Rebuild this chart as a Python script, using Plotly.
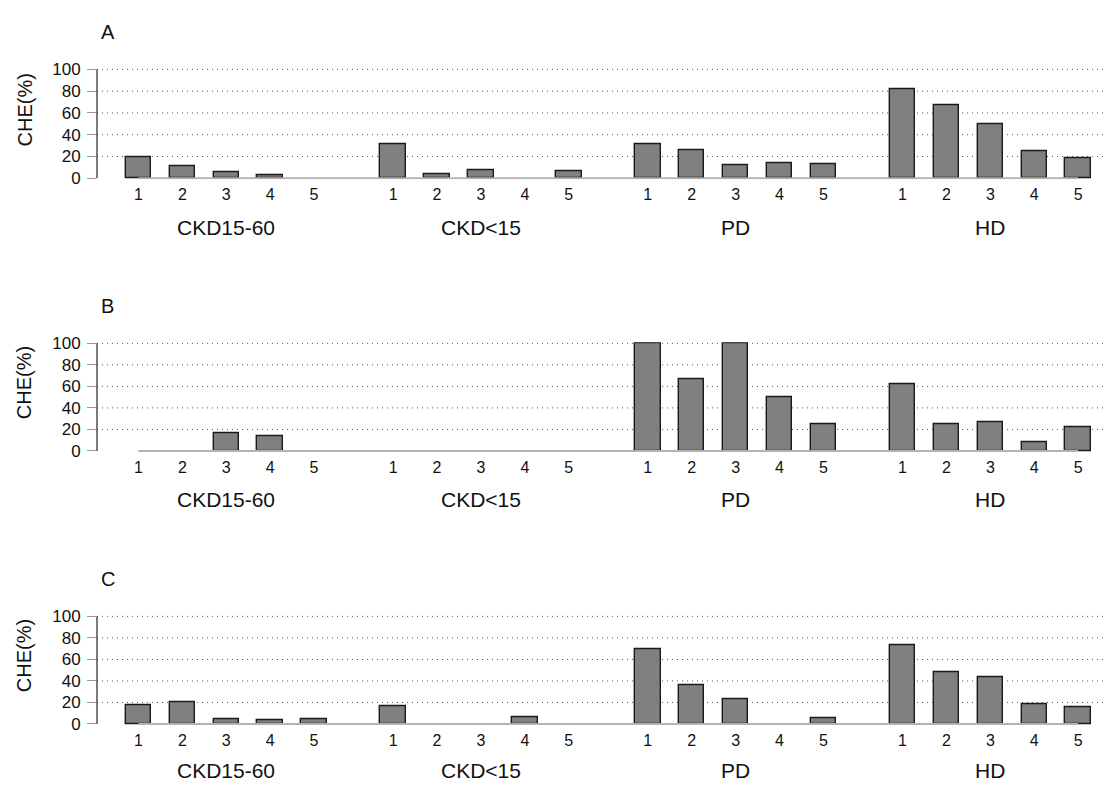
import plotly.graph_objects as go

groups = ["CKD15-60", "CKD<15", "PD", "HD"]
bar_labels = ["1", "2", "3", "4", "5"]
panels = ["A", "B", "C"]

# CHE(%) values per panel, per group (5 values each)
panel_A = {
    "CKD15-60": [19.0, 10.6, 5.8, 2.7, 0.0],
    "CKD<15": [30.9, 3.6, 7.6, 0.0, 6.7],
    "PD": [31.2, 25.5, 11.8, 13.6, 12.7],
    "HD": [81.8, 67.0, 50.0, 24.8, 18.5],
}
panel_B = {
    "CKD15-60": [0.0, 0.0, 16.3, 13.9, 0.0],
    "CKD<15": [0.0, 0.0, 0.0, 0.0, 0.0],
    "PD": [100.0, 66.5, 100.0, 49.8, 24.5],
    "HD": [62.2, 24.5, 26.9, 8.5, 21.8],
}
panel_C = {
    "CKD15-60": [17.2, 19.9, 4.8, 3.6, 4.8],
    "CKD<15": [16.3, 0.0, 0.0, 6.0, 0.0],
    "PD": [69.8, 36.0, 23.0, 0.0, 5.1],
    "HD": [73.1, 48.0, 43.8, 18.1, 15.1],
}
panel_data = [panel_A, panel_B, panel_C]
y_ticks = [0, 20, 40, 60, 80, 100]

W, H = 1104, 791
FONT = "Liberation Sans, Arial, Helvetica, sans-serif"
GROUP_STEP = 5.8
L = 97.3
# pixel positions of the 100 and 0 levels for each panel
pix = [(62.7, 174.0), (342.7, 452.7), (621.7, 731.7)]

def fy(py):
    return 1 - py / H

def fx(px):
    return (px - L) / (W - L)

positions = []
ticktext = []
for gi, g in enumerate(groups):
    for bi, lab in enumerate(bar_labels):
        positions.append(gi * GROUP_STEP + bi + 1)
        ticktext.append(lab)
group_centers = [gi * GROUP_STEP + 3 for gi in range(len(groups))]

fig = go.Figure()
shapes = []
annotations = []
x_left = 1 - (138.7 - L) / 43.9
x_right = x_left + (W - L) / 43.9

for pi, (name, data) in enumerate(zip(panels, panel_data)):
    ax = "" if pi == 0 else str(pi + 1)
    y100, y0 = pix[pi]
    per = (y0 - y100) / 100.0
    top, bot = y100 - per, y0 + per
    vals = []
    for g in groups:
        vals.extend(data[g])
    shown = [v if v > 0 else None for v in vals]
    fig.add_trace(go.Bar(
        x=positions, y=shown, width=0.58,
        marker=dict(color="#808080", line=dict(color="#1a1a1a", width=1.4)),
        xaxis="x" + ax, yaxis="y" + ax, showlegend=False, hoverinfo="skip",
    ))
    fig.layout["xaxis" + ax] = dict(
        domain=[0, 1], range=[x_left, x_right], anchor="y" + ax,
        tickvals=positions, ticktext=ticktext, ticks="",
        showgrid=False, zeroline=False, showline=False,
        tickfont=dict(family=FONT, size=16, color="#111"),
        ticklabelstandoff=4,
    )
    fig.layout["yaxis" + ax] = dict(
        domain=[fy(bot), fy(top)], range=[-1, 101], anchor="x" + ax,
        tickvals=y_ticks, ticks="outside", ticklen=9, tickwidth=1.3,
        tickcolor="#999", showgrid=False, zeroline=False, showline=False,
        tickfont=dict(family=FONT, size=17, color="#111"),
        ticklabelstandoff=3,
    )
    xr = "x" + ax
    yr = "y" + ax
    # dotted grid lines
    for t in y_ticks[1:]:
        shapes.append(dict(type="line", xref=xr + " domain", yref=yr,
                           x0=0, x1=1, y0=t, y1=t, layer="below",
                           line=dict(color="#555", width=1, dash="1px,4px")))
    # y axis line
    shapes.append(dict(type="line", xref=xr + " domain", yref=yr,
                       x0=0, x1=0, y0=0, y1=100,
                       line=dict(color="#333", width=1.3)))
    # baseline
    shapes.append(dict(type="line", xref=xr, yref=yr,
                       x0=positions[0], x1=positions[-1], y0=0, y1=0,
                       layer="above", line=dict(color="#b3b3b3", width=2)))
    # group labels
    gy = min(y0 + 50, 779)
    for gc, g in zip(group_centers, groups):
        annotations.append(dict(x=gc, xref=xr, y=fy(gy), yref="paper",
                                text=g, showarrow=False, xanchor="center",
                                yanchor="middle",
                                font=dict(family=FONT, size=21, color="#111")))
    # y title
    annotations.append(dict(x=fx(25), xref="paper", y=fy(y0 - 70), yref="paper",
                            text="CHE(%)", textangle=-90, showarrow=False,
                            xanchor="center", yanchor="middle",
                            font=dict(family=FONT, size=20, color="#111")))
    # panel letter
    annotations.append(dict(x=fx(108), xref="paper", y=fy(y100 - 38), yref="paper",
                            text=name, showarrow=False, xanchor="center",
                            yanchor="middle",
                            font=dict(family=FONT, size=20, color="#111")))

fig.update_layout(
    width=W, height=H, margin=dict(l=L, r=0, t=0, b=0),
    paper_bgcolor="white", plot_bgcolor="white",
    shapes=shapes, annotations=annotations, bargap=0,
)
fig.write_html("out.html",
               config={"displayModeBar": False},
               post_script="document.body.style.margin='0';"
                           "document.body.style.overflow='hidden';")
